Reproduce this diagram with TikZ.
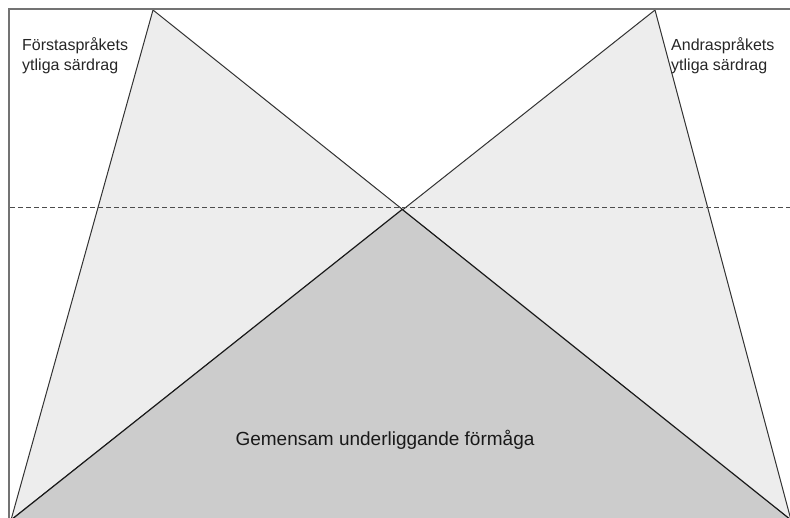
\documentclass[tikz,border=0pt]{standalone}
\usepackage{fontspec}
\setmainfont{Liberation Sans}
\usetikzlibrary{calc,intersections}
\tikzset{
  edge/.style={draw=black!80, line width=1pt, line join=miter},
  lighttri/.style={edge, fill=black!7},
  darktri/.style={draw=black!90, line width=1.2pt, fill=black!20},
  level/.style={draw=black!70, line width=1pt, dash pattern=on 5pt off 3pt},
  frame/.style={draw=black!55, line width=1.8pt},
  label/.style={align=left, anchor=north west, inner sep=0pt, font=\fontsize{16}{20}\selectfont, text=black!85},
}
\begin{document}
\begin{tikzpicture}[x=1pt,y=-1pt]
\useasboundingbox (0,0) rectangle (790,517);
\clip (0,0) rectangle (790,517);
\fill[white] (0,0) rectangle (790,517);
\coordinate (LT) at (153,10);
\coordinate (RT) at (655,10);
\coordinate (BL) at (11,520);
\coordinate (BR) at (791,520);
\coordinate (X) at (402.2,209.4);
\coordinate (DR) at (790,207);
\draw[lighttri] (LT) -- (BL) -- (BR) -- cycle;
\draw[lighttri] (RT) -- (BR) -- (BL) -- cycle;
\draw[darktri] (BL) -- (X) -- (BR) -- cycle;
\draw[level] (10,207) -- (DR);
\draw[frame] (9,9) rectangle (820,540);
\node[label] (l1) at (22,37) {Förstaspråkets\\ytliga särdrag};
\node[label] (l2) at (671,37) {Andraspråkets\\ytliga särdrag};
\node[anchor=base, inner sep=0pt, font=\fontsize{19}{23}\selectfont, text=black!90] (g) at (385,445) {Gemensam underliggande förmåga};
\end{tikzpicture}
\end{document}
